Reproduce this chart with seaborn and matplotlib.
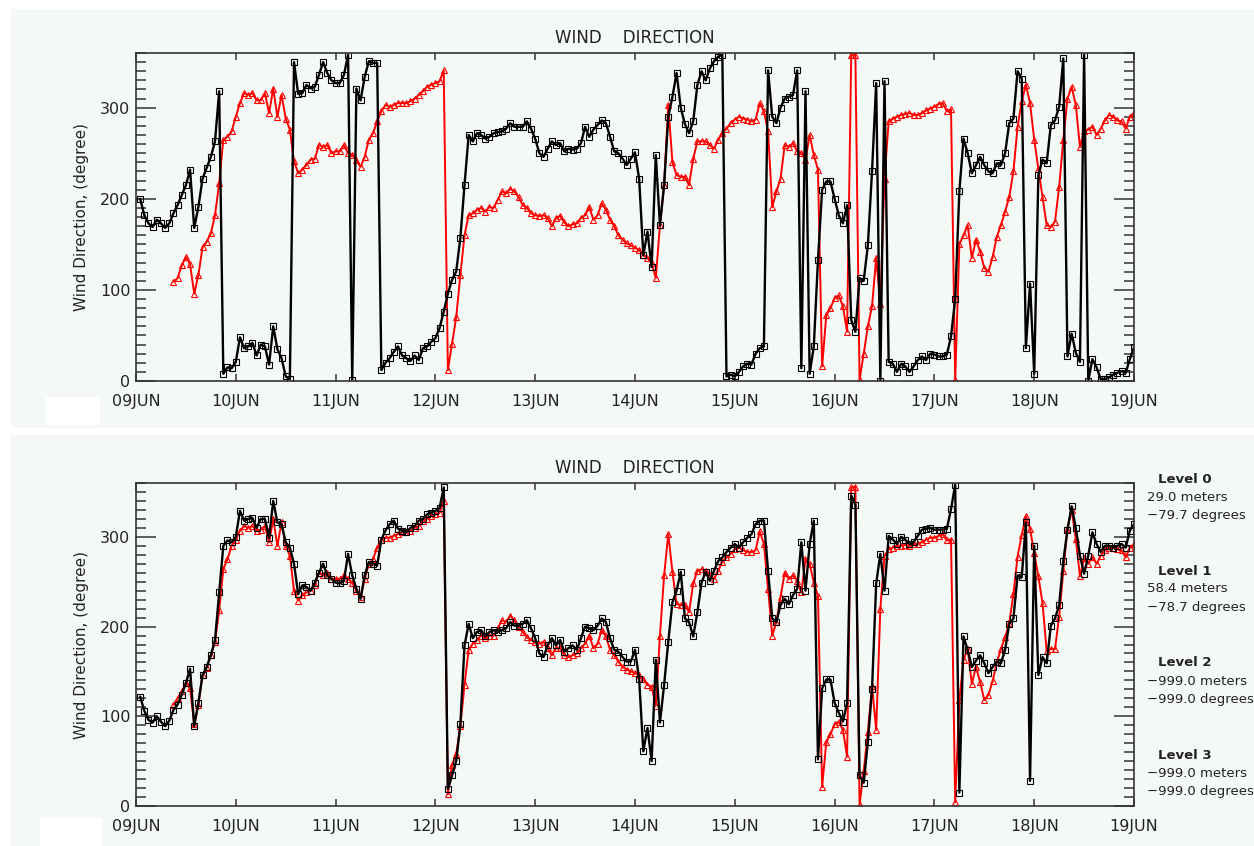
import numpy as np
import pandas as pd
import matplotlib
matplotlib.use("Agg")
import matplotlib.pyplot as plt
import seaborn as sns
from matplotlib.patches import Rectangle
from matplotlib.ticker import MultipleLocator, NullLocator, FixedLocator

nan = float("nan")

# hours after 09JUN 00:00 (hourly samples)
hours = list(range(1, 241))
day_ticks = list(range(0, 241, 24))
day_labels = ["09JUN", "10JUN", "11JUN", "12JUN", "13JUN", "14JUN",
              "15JUN", "16JUN", "17JUN", "18JUN", "19JUN"]

# ---- upper panel ----
top_black = [
    200, 182, 173, 169, 177, 173, 168, 173, 184, 193, 204, 215, 232, 168, 191, 222, 234, 246, 263, 318, 8, 15, 14, 21,
    48, 36, 38, 42, 28, 40, 38, 18, 60, 35, 25, 5, 2, 350, 315, 316, 325, 321, 323, 336, 350, 338, 330, 327,
    327, 336, 358, 1, 321, 308, 334, 351, 349, 349, 12, 20, 25, 32, 38, 28, 25, 22, 28, 23, 36, 38, 43, 47,
    58, 76, 96, 111, 120, 157, 215, 270, 263, 272, 270, 266, 268, 272, 273, 274, 277, 283, 279, 279, 279, 285, 277, 266,
    250, 246, 255, 263, 259, 261, 252, 255, 254, 255, 261, 279, 268, 276, 281, 286, 283, 268, 252, 250, 244, 237, 244, 251,
    222, 138, 164, 125, 248, 171, 215, 290, 312, 338, 300, 282, 272, 285, 325, 340, 330, 343, 351, 356, 358, 5, 7, 5,
    10, 16, 19, 18, 30, 36, 38, 341, 290, 283, 300, 310, 312, 314, 341, 14, 318, 8, 38, 133, 210, 219, 219, 200,
    182, 173, 193, 67, 54, 113, 110, 149, 230, 327, 0, 329, 21, 19, 10, 19, 16, 10, 16, 23, 27, 23, 30, 29,
    27, 27, 29, 49, 90, 208, 266, 250, 228, 237, 246, 237, 230, 228, 239, 237, 250, 283, 288, 340, 332, 36, 107, 8,
    226, 243, 239, 281, 286, 301, 354, 27, 52, 31, 21, 358, 0, 24, 15, 2, 2, 4, 7, 9, 11, 9, 24, 37,
]
top_red = [
    nan, nan, nan, nan, nan, nan, nan, nan, 109, 113, 127, 136, 128, 96, 116, 147, 153, 162, 182, 217, 265, 268, 274, 290,
    305, 316, 314, 316, 308, 308, 316, 294, 321, 290, 314, 288, 276, 241, 228, 232, 237, 243, 244, 259, 257, 259, 250, 252,
    252, 259, 250, 248, 243, 235, 246, 265, 272, 285, 296, 303, 301, 303, 305, 305, 305, 307, 310, 314, 318, 323, 325, 327,
    329, 341, 12, 41, 70, 116, 160, 182, 184, 188, 190, 186, 191, 190, 199, 208, 206, 211, 208, 202, 193, 190, 184, 182,
    181, 182, 179, 170, 179, 181, 174, 170, 172, 173, 179, 182, 191, 177, 182, 195, 188, 177, 170, 160, 155, 151, 149, 146,
    144, 138, 135, 129, 113, 171, 215, 303, 240, 226, 224, 224, 215, 244, 263, 263, 263, 259, 255, 265, 272, 277, 283, 287,
    290, 288, 287, 285, 287, 305, 296, 274, 191, 208, 222, 259, 257, 261, 252, 250, 243, 270, 248, 232, 16, 72, 80, 91,
    94, 82, 54, 358, 358, 1, 30, 60, 82, 135, 85, 222, 285, 288, 290, 292, 293, 294, 292, 292, 294, 297, 299, 301,
    304, 305, 296, 298, 1, 150, 160, 171, 135, 155, 142, 124, 120, 136, 158, 171, 186, 202, 230, 279, 307, 325, 305, 265,
    233, 202, 171, 169, 175, 213, 265, 310, 323, 303, 257, 274, 276, 279, 270, 277, 286, 292, 290, 286, 285, 277, 290, 294,
]

# ---- lower panel ----
bot_black = [
    122, 106, 96, 93, 100, 94, 89, 95, 107, 113, 124, 137, 153, 89, 115, 146, 155, 168, 185, 238, 290, 296, 294, 300,
    329, 318, 320, 321, 310, 320, 320, 299, 340, 316, 314, 294, 288, 270, 236, 246, 244, 240, 249, 260, 270, 257, 253, 249,
    248, 251, 281, 257, 242, 231, 257, 272, 270, 268, 297, 307, 314, 318, 309, 307, 305, 310, 312, 318, 320, 325, 327, 329,
    332, 355, 19, 34, 50, 91, 179, 203, 187, 194, 196, 189, 194, 196, 194, 196, 198, 205, 201, 201, 203, 207, 198, 187,
    170, 166, 179, 187, 179, 185, 172, 176, 179, 174, 187, 200, 198, 196, 201, 209, 205, 187, 174, 172, 166, 161, 161, 174,
    141, 61, 87, 50, 163, 93, 135, 183, 227, 240, 261, 209, 205, 189, 216, 249, 261, 251, 262, 273, 277, 283, 288, 292,
    288, 294, 299, 303, 314, 318, 318, 262, 209, 205, 224, 231, 225, 235, 242, 294, 240, 292, 318, 52, 131, 141, 141, 115,
    104, 94, 115, 346, 336, 34, 26, 71, 130, 248, 281, 240, 301, 297, 292, 300, 297, 292, 294, 301, 308, 309, 310, 308,
    308, 308, 309, 331, 358, 15, 189, 174, 155, 162, 168, 159, 148, 155, 161, 159, 174, 203, 209, 257, 255, 316, 28, 290,
    146, 166, 159, 201, 209, 224, 273, 308, 334, 310, 279, 259, 279, 305, 292, 283, 290, 290, 288, 290, 292, 288, 307, 314,
]
bot_red = [
    nan, nan, nan, nan, nan, nan, nan, nan, 113, 120, 128, 137, 131, 91, 113, 146, 154, 168, 183, 218, 264, 275, 290, 297,
    307, 312, 310, 312, 307, 308, 312, 294, 320, 290, 316, 290, 279, 240, 229, 235, 238, 240, 246, 260, 257, 260, 253, 253,
    253, 257, 253, 249, 240, 233, 253, 270, 275, 288, 297, 299, 299, 301, 303, 305, 305, 307, 310, 312, 318, 320, 323, 325,
    327, 340, 13, 46, 58, 89, 135, 174, 181, 185, 190, 187, 190, 190, 198, 207, 205, 212, 207, 199, 194, 188, 185, 183,
    181, 183, 176, 168, 176, 176, 168, 166, 168, 170, 176, 181, 190, 176, 181, 196, 189, 174, 168, 161, 155, 152, 150, 148,
    146, 141, 135, 133, 112, 190, 257, 303, 261, 225, 224, 224, 216, 248, 262, 264, 262, 257, 253, 262, 272, 277, 281, 286,
    288, 285, 283, 283, 285, 306, 292, 242, 190, 205, 233, 260, 253, 257, 251, 238, 275, 270, 249, 234, 21, 71, 80, 91,
    94, 85, 55, 355, 356, 1, 39, 83, 134, 85, 220, 279, 286, 288, 290, 290, 291, 290, 292, 292, 294, 297, 299, 299,
    301, 303, 296, 297, 4, 118, 163, 175, 136, 155, 138, 118, 124, 139, 160, 175, 188, 204, 236, 278, 302, 323, 309, 282,
    256, 226, 173, 175, 175, 211, 262, 309, 330, 298, 256, 276, 270, 277, 270, 279, 285, 288, 288, 286, 285, 277, 288, 292,
]

title_text = "WIND    DIRECTION"
ylabel_text = "Wind Direction, (degree)"
level_names = ["Level 0", "Level 1", "Level 2", "Level 3"]
level_heights = ["29.0 meters", "58.4 meters", "\u2212999.0 meters", "\u2212999.0 meters"]
level_dirs = ["\u221279.7 degrees", "\u221278.7 degrees", "\u2212999.0 degrees", "\u2212999.0 degrees"]

df = pd.DataFrame({"hour": hours, "top_black": top_black, "top_red": top_red,
                   "bot_black": bot_black, "bot_red": bot_red})

sns.set_style("ticks")
plt.rcParams["font.family"] = ["DejaVu Sans"]

W, H = 1254, 846
fig = plt.figure(figsize=(W / 100, H / 100), dpi=100)
fig.patch.set_facecolor("white")
BG = "#f5f9f6"
TXT = "#222222"


def px_rect(x0, y0, x1, y1, color, z):
    fig.add_artist(Rectangle((x0 / W, 1 - y1 / H), (x1 - x0) / W, (y1 - y0) / H,
                             transform=fig.transFigure, facecolor=color,
                             edgecolor="none", zorder=z))


px_rect(11, 9, W, 428, BG, -10)
px_rect(11, 435, W, H, BG, -10)
px_rect(46, 397, 100, 425, "white", -9)
px_rect(40, 818, 102, H, "white", -9)

ax_top = fig.add_axes([136 / W, 1 - 381 / H, 998 / W, 328 / H])
ax_bot = fig.add_axes([136 / W, 1 - 806 / H, 998 / W, 323 / H])

for ax, kb, kr in [(ax_top, "top_black", "top_red"), (ax_bot, "bot_black", "bot_red")]:
    ax.set_facecolor(BG)
    sns.lineplot(data=df, x="hour", y=kr, ax=ax, color="red", lw=1.4,
                 marker="^", markersize=5, markerfacecolor="none",
                 markeredgecolor="red", markeredgewidth=0.8,
                 estimator=None, legend=False)
    sns.lineplot(data=df, x="hour", y=kb, ax=ax, color="black", lw=1.7,
                 marker="s", markersize=4.5, markerfacecolor="none",
                 markeredgecolor="black", markeredgewidth=0.8,
                 estimator=None, legend=False)
    ax.set_xlim(0, 240)
    ax.set_ylim(0, 360)
    ax.xaxis.set_major_locator(FixedLocator(day_ticks))
    ax.set_xticklabels(day_labels)
    ax.xaxis.set_minor_locator(NullLocator())
    ax.yaxis.set_major_locator(FixedLocator([0, 100, 200, 300]))
    ax.yaxis.set_minor_locator(MultipleLocator(10))
    ax.tick_params(axis="x", which="major", direction="in", top=True, bottom=True,
                   length=5, width=1.1, color="#333333", pad=9.5,
                   labelsize=11.5, labelcolor=TXT)
    ax.tick_params(axis="y", which="major", direction="in", left=True, right=True,
                   length=14.5, width=1.1, color="#333333", pad=4,
                   labelsize=11.5, labelcolor=TXT)
    ax.tick_params(axis="y", which="minor", direction="in", left=True, right=True,
                   length=7.2, width=1.1, color="#333333")
    for sp in ax.spines.values():
        sp.set_visible(True)
        sp.set_linewidth(1.2)
        sp.set_color("#333333")
    ax.set_xlabel("")
    ax.set_ylabel(ylabel_text, fontsize=11, color=TXT, labelpad=8)
    ax.set_title(title_text, fontsize=12, color=TXT, pad=7)

# level annotations on the right of the lower panel
name_y = [479, 571, 663, 755]
for i in range(4):
    y0 = name_y[i]
    fig.text(1158 / W, 1 - y0 / H, level_names[i], fontsize=9.5, fontweight="bold",
             color=TXT, va="center", ha="left")
    fig.text(1147 / W, 1 - (y0 + 18) / H, level_heights[i], fontsize=9.5,
             color=TXT, va="center", ha="left")
    fig.text(1147 / W, 1 - (y0 + 36) / H, level_dirs[i], fontsize=9.5,
             color=TXT, va="center", ha="left")

fig.savefig("out.png", dpi=100, facecolor="white")
